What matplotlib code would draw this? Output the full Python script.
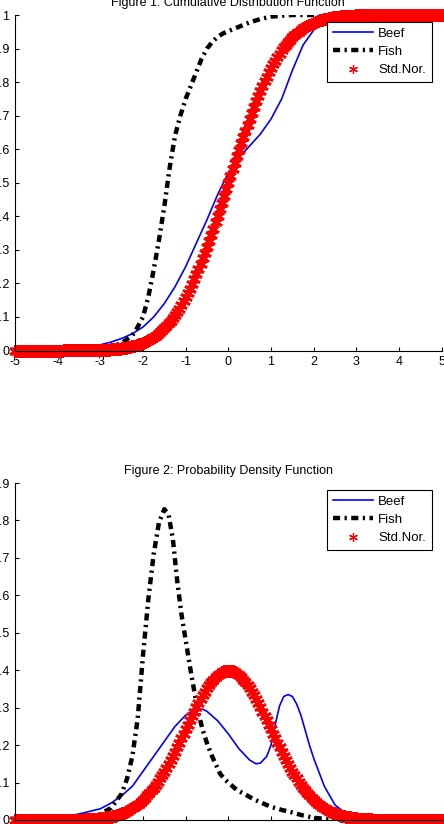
import numpy as np
import matplotlib.pyplot as plt

plt.rcParams['font.family'] = ['Liberation Sans', 'DejaVu Sans']
plt.rcParams['font.size'] = 9

# standard normal, sampled every 0.05 from -5 to 5
norm_x = np.linspace(-5, 5, 201)
norm_cdf = [
    0, 0, 0, 0, 0, 0, 0, 0, 0, 0,
    0, 0, 0, 0, 0, 0, 0, 0, 0, 0,
    0, 0, 0, 0.0001, 0.0001, 0.0001, 0.0001, 0.0001, 0.0002, 0.0002,
    0.0002, 0.0003, 0.0003, 0.0004, 0.0005, 0.0006, 0.0007, 0.0008, 0.0010, 0.0011,
    0.0013, 0.0016, 0.0019, 0.0022, 0.0026, 0.0030, 0.0035, 0.0040, 0.0047, 0.0054,
    0.0062, 0.0071, 0.0082, 0.0094, 0.0107, 0.0122, 0.0139, 0.0158, 0.0179, 0.0202,
    0.0228, 0.0256, 0.0287, 0.0322, 0.0359, 0.0401, 0.0446, 0.0495, 0.0548, 0.0606,
    0.0668, 0.0735, 0.0808, 0.0885, 0.0968, 0.1056, 0.1151, 0.1251, 0.1357, 0.1469,
    0.1587, 0.1711, 0.1841, 0.1977, 0.2119, 0.2266, 0.2420, 0.2578, 0.2743, 0.2912,
    0.3085, 0.3264, 0.3446, 0.3632, 0.3821, 0.4013, 0.4207, 0.4404, 0.4602, 0.4801,
    0.5000,
    0.5199, 0.5398, 0.5596, 0.5793, 0.5987, 0.6179, 0.6368, 0.6554, 0.6736, 0.6915,
    0.7088, 0.7257, 0.7422, 0.7580, 0.7734, 0.7881, 0.8023, 0.8159, 0.8289, 0.8413,
    0.8531, 0.8643, 0.8749, 0.8849, 0.8944, 0.9032, 0.9115, 0.9192, 0.9265, 0.9332,
    0.9394, 0.9452, 0.9505, 0.9554, 0.9599, 0.9641, 0.9678, 0.9713, 0.9744, 0.9772,
    0.9798, 0.9821, 0.9842, 0.9861, 0.9878, 0.9893, 0.9906, 0.9918, 0.9929, 0.9938,
    0.9946, 0.9953, 0.9960, 0.9965, 0.9970, 0.9974, 0.9978, 0.9981, 0.9984, 0.9987,
    0.9989, 0.9990, 0.9992, 0.9993, 0.9994, 0.9995, 0.9996, 0.9997, 0.9997, 0.9998,
    0.9998, 0.9998, 0.9999, 0.9999, 0.9999, 0.9999, 0.9999, 1, 1, 1,
    1, 1, 1, 1, 1, 1, 1, 1, 1, 1,
    1, 1, 1, 1, 1, 1, 1, 1, 1, 1,
]
norm_pdf = [
    0, 0, 0, 0, 0, 0, 0, 0, 0, 0,
    0, 0, 0, 0, 0, 0, 0, 0, 0.0001, 0.0001,
    0.0001, 0.0002, 0.0002, 0.0002, 0.0003, 0.0004, 0.0004, 0.0005, 0.0006, 0.0007,
    0.0009, 0.0010, 0.0012, 0.0015, 0.0017, 0.0020, 0.0024, 0.0028, 0.0033, 0.0038,
    0.0044, 0.0051, 0.0060, 0.0069, 0.0079, 0.0091, 0.0104, 0.0119, 0.0136, 0.0154,
    0.0175, 0.0198, 0.0224, 0.0252, 0.0283, 0.0317, 0.0355, 0.0396, 0.0440, 0.0488,
    0.0540, 0.0596, 0.0656, 0.0721, 0.0790, 0.0863, 0.0940, 0.1023, 0.1109, 0.1200,
    0.1295, 0.1394, 0.1497, 0.1604, 0.1714, 0.1826, 0.1942, 0.2059, 0.2179, 0.2299,
    0.2420, 0.2541, 0.2661, 0.2780, 0.2897, 0.3011, 0.3123, 0.3230, 0.3332, 0.3429,
    0.3521, 0.3605, 0.3683, 0.3752, 0.3814, 0.3867, 0.3910, 0.3945, 0.3970, 0.3984,
    0.3989,
    0.3984, 0.3970, 0.3945, 0.3910, 0.3867, 0.3814, 0.3752, 0.3683, 0.3605, 0.3521,
    0.3429, 0.3332, 0.3230, 0.3123, 0.3011, 0.2897, 0.2780, 0.2661, 0.2541, 0.2420,
    0.2299, 0.2179, 0.2059, 0.1942, 0.1826, 0.1714, 0.1604, 0.1497, 0.1394, 0.1295,
    0.1200, 0.1109, 0.1023, 0.0940, 0.0863, 0.0790, 0.0721, 0.0656, 0.0596, 0.0540,
    0.0488, 0.0440, 0.0396, 0.0355, 0.0317, 0.0283, 0.0252, 0.0224, 0.0198, 0.0175,
    0.0154, 0.0136, 0.0119, 0.0104, 0.0091, 0.0079, 0.0069, 0.0060, 0.0051, 0.0044,
    0.0038, 0.0033, 0.0028, 0.0024, 0.0020, 0.0017, 0.0015, 0.0012, 0.0010, 0.0009,
    0.0007, 0.0006, 0.0005, 0.0004, 0.0004, 0.0003, 0.0002, 0.0002, 0.0002, 0.0001,
    0.0001, 0.0001, 0, 0, 0, 0, 0, 0, 0, 0,
    0, 0, 0, 0, 0, 0, 0, 0, 0, 0,
]

# Beef
beef_cdf_x = [-5, -4, -3.5, -3, -2.75, -2.5, -2.25, -2, -1.75, -1.5, -1.25, -1, -0.75,
              -0.5, -0.25, 0, 0.25, 0.5, 0.75, 1, 1.25, 1.5, 1.75, 2, 2.25, 2.5, 2.75, 5]
beef_cdf = [0, 0.002, 0.007, 0.017, 0.025, 0.036, 0.05, 0.07, 0.10, 0.14, 0.19, 0.25, 0.32,
            0.39, 0.465, 0.53, 0.575, 0.61, 0.645, 0.69, 0.75, 0.835, 0.91, 0.955, 0.983, 0.995, 1, 1]
beef_pdf_x = [-5, -4.5, -4, -3.5, -3, -2.75, -2.5, -2.25, -2, -1.75, -1.5, -1.25, -1, -0.75,
              -0.6, -0.5, -0.25, 0, 0.25, 0.5, 0.65, 0.75, 0.9, 1, 1.1, 1.2, 1.3, 1.4, 1.5,
              1.6, 1.7, 1.8, 1.9, 2, 2.25, 2.5, 2.75, 3, 3.25, 3.5, 5]
beef_pdf = [0, 0.002, 0.006, 0.016, 0.03, 0.045, 0.065, 0.09, 0.13, 0.17, 0.21, 0.25, 0.28, 0.295,
            0.296, 0.29, 0.265, 0.23, 0.19, 0.16, 0.15, 0.152, 0.17, 0.2, 0.255, 0.305, 0.33, 0.335, 0.33,
            0.31, 0.28, 0.24, 0.2, 0.165, 0.09, 0.04, 0.018, 0.006, 0.002, 0, 0]

# Fish
fish_cdf_x = [-5, -3.5, -3, -2.75, -2.5, -2.25, -2.125, -2, -1.875, -1.75, -1.625, -1.5, -1.375,
              -1.25, -1.125, -1, -0.875, -0.75, -0.625, -0.5, -0.375, -0.25, -0.125, 0, 0.25,
              0.5, 0.75, 1, 1.25, 1.5, 5]
fish_cdf = [0, 0.001, 0.005, 0.011, 0.022, 0.045, 0.07, 0.10, 0.16, 0.24, 0.33, 0.43, 0.545,
            0.64, 0.70, 0.75, 0.79, 0.83, 0.87, 0.90, 0.92, 0.935, 0.945, 0.952, 0.965,
            0.978, 0.988, 0.995, 0.998, 1, 1]
fish_pdf_x = [-5, -3.5, -3.25, -3, -2.75, -2.5, -2.375, -2.25, -2.125, -2, -1.875, -1.75, -1.625,
              -1.5, -1.4, -1.3, -1.2, -1.1, -1, -0.9, -0.8, -0.7, -0.6, -0.5, -0.4, -0.3, -0.2,
              -0.1, 0, 0.2, 0.4, 0.6, 0.8, 1, 1.25, 1.5, 1.75, 2, 2.25, 2.5, 2.75, 5]
fish_pdf = [0, 0.003, 0.008, 0.016, 0.032, 0.07, 0.11, 0.17, 0.27, 0.44, 0.59, 0.71, 0.795,
            0.83, 0.815, 0.75, 0.64, 0.55, 0.48, 0.41, 0.345, 0.285, 0.24, 0.205, 0.175, 0.15, 0.125,
            0.11, 0.10, 0.08, 0.068, 0.055, 0.045, 0.035, 0.027, 0.02, 0.012, 0.006, 0.003, 0.001, 0, 0]

x_ticks = [-5, -4, -3, -2, -1, 0, 1, 2, 3, 4, 5]
cdf_ticks = [0, 0.1, 0.2, 0.3, 0.4, 0.5, 0.6, 0.7, 0.8, 0.9, 1]
cdf_tick_labels = ["0", "0.1", "0.2", "0.3", "0.4", "0.5", "0.6", "0.7", "0.8", "0.9", "1"]
pdf_ticks = [0, 0.1, 0.2, 0.3, 0.4, 0.5, 0.6, 0.7, 0.8, 0.9]
pdf_tick_labels = ["0", "0.1", "0.2", "0.3", "0.4", "0.5", "0.6", "0.7", "0.8", "0.9"]

fish_style = (0, (1.6, 1.0, 0.5, 1.0))
star = (6, 2, 0)  # asterisk, like matlab's '*'


def draw(ax, bx, by, fx, fy, ny, title, yticks, ylabels, ytop):
    ax.plot(bx, by, color="blue", lw=1.2, label="Beef")
    ax.plot(fx, fy, color="black", lw=3.2, linestyle=fish_style, dash_capstyle="butt",
            label="Fish")
    ax.plot(norm_x, ny, linestyle="none", marker=star, color="red", markersize=9,
            markeredgewidth=1.9, clip_on=False, label="Std.Nor.")
    ax.set_xlim(-5, 5)
    ax.set_ylim(0, ytop)
    ax.set_xticks(x_ticks)
    ax.set_xticklabels([str(t) for t in x_ticks])
    ax.set_yticks(yticks)
    ax.set_yticklabels(ylabels)
    ax.spines["top"].set_visible(False)
    ax.spines["right"].set_visible(False)
    for s in ("left", "bottom"):
        ax.spines[s].set_linewidth(0.8)
    ax.tick_params(direction="in", length=3, width=0.8, labelsize=9, pad=4)
    ax.set_title(title, fontsize=9, pad=6.5)
    leg = ax.legend(loc="upper right", bbox_to_anchor=(0.977, 0.98), borderaxespad=0,
                    fancybox=False, edgecolor="black", fontsize=9.5, handlelength=3.0,
                    handletextpad=0.4, labelspacing=0.45, borderpad=0.45, numpoints=1,
                    markerscale=0.7, framealpha=1)
    leg.get_frame().set_linewidth(0.8)
    # thinner asterisk in the legend, as in the original
    leg.legend_handles[2].set_markeredgewidth(0.9)


fig = plt.figure(figsize=(4.44, 8.24), dpi=100)
ax1 = fig.add_axes([15 / 444, 1 - 350.5 / 824, 426.7 / 444, 335.5 / 824])
ax2 = fig.add_axes([15 / 444, 1 - 820 / 824, 426.7 / 444, 337 / 824])

draw(ax1, beef_cdf_x, beef_cdf, fish_cdf_x, fish_cdf, norm_cdf,
     "Figure 1: Cumulative Distribution Function", cdf_ticks, cdf_tick_labels, 1)
draw(ax2, beef_pdf_x, beef_pdf, fish_pdf_x, fish_pdf, norm_pdf,
     "Figure 2: Probability Density Function", pdf_ticks, pdf_tick_labels, 0.9)

fig.savefig("out.png", dpi=100)
